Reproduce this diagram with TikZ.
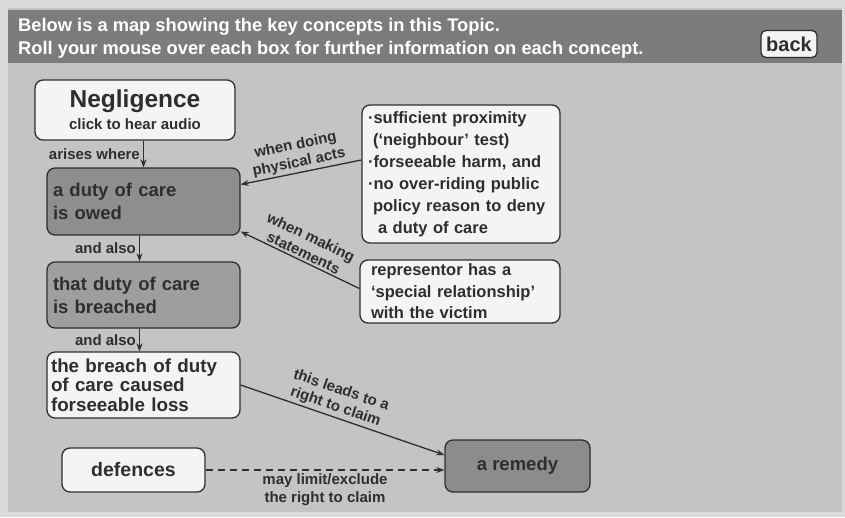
\documentclass[tikz,border=0pt]{standalone}
\usepackage{fontspec}
\setmainfont{Liberation Sans}
\usetikzlibrary{arrows.meta,positioning}
\definecolor{pagebg}{HTML}{DADADA}
\definecolor{panelbg}{HTML}{C4C4C4}
\definecolor{bandbg}{HTML}{7C7C7C}
\definecolor{darkbox}{HTML}{8C8C8C}
\definecolor{midbox}{HTML}{9E9E9E}
\definecolor{lightbox}{HTML}{F4F4F4}
\definecolor{ink}{HTML}{2E2E2E}

\begin{document}
\begin{tikzpicture}[x=1pt, y=-1pt,
		box/.style={draw=ink, line width=1.3pt, rounded corners=8pt,
				inner sep=0pt, text=ink,
				font=\fontsize{18.5}{23}\selectfont\bfseries},
		wbox/.style={box, fill=lightbox},
		gbox/.style={box, fill=midbox},
		lbl/.style={font=\fontsize{15}{17.5}\selectfont\bfseries,
				text=ink, inner sep=2pt, align=center},
		arr/.style={-{Stealth[length=8pt,width=6pt]}, line width=1.3pt, draw=ink}]

	% background and header band
	\fill[pagebg] (0,0) rectangle (845,517);
	\fill[panelbg] (8,8) rectangle (842,512);
	\fill[bandbg] (8,10) rectangle (842,63);
	\node[anchor=west, align=left, text=white, inner sep=0pt,
		font=\fontsize{18.3}{23}\selectfont\bfseries] (intro) at (18,38)
	{Below is a map showing the key concepts in this Topic.\\
		Roll your mouse over each box for further information on each concept.};
	\node[wbox, rounded corners=5pt, minimum width=56pt, minimum height=27pt,
		font=\fontsize{20}{22}\selectfont\bfseries] (back) at (789,44) {back};

	% main chain
	\node[wbox, minimum width=200pt, minimum height=60pt, align=center] (neg) at (135,110)
	{{\fontsize{24.5}{26}\selectfont Negligence}\\[-1pt]{\fontsize{15}{16}\selectfont click to hear audio}};
	\node[gbox, fill=midbox!90!black, text width=181pt, minimum height=67pt,
		inner xsep=6pt, align=left] (owed) at (143.5,201.5) {a duty of care\\is owed};
	\node[gbox, text width=181pt, minimum height=66pt,
		inner xsep=6pt, align=left] (breached) at (143.5,295) {that duty of care\\is breached};
	\node[wbox, text width=185pt, minimum height=66pt, inner xsep=4pt,
		align=left, font=\fontsize{18.8}{19.5}\selectfont\bfseries] (loss) at (143.5,385)
	{the breach of duty\\of care caused\\forseeable loss};

	% conditions
	\node[wbox, text width=186pt, minimum height=138pt, inner xsep=6pt,
		align=left, font=\fontsize{16.5}{22}\selectfont\bfseries] (tests) at (461,174)
	{·sufficient proximity\\
		\hspace*{5pt}(`neighbour' test)\\
		·forseeable harm, and\\
		·no over-riding public\\
		\hspace*{5pt}policy reason to deny\\
		\hspace*{10pt}a duty of care};
	\node[wbox, text width=178pt, minimum height=63pt, inner xsep=11pt,
		align=left, font=\fontsize{16.5}{21.5}\selectfont\bfseries] (special) at (460,291.5)
	{representor has a\\`special relationship'\\with the victim};

	% outcome
	\node[wbox, minimum width=143pt, minimum height=44pt,
		font=\fontsize{19.5}{22}\selectfont\bfseries] (defences) at (133.5,470) {defences};
	\node[box, fill=darkbox, minimum width=145pt, minimum height=52pt] (remedy) at (517.5,466) {a remedy};

	% connectors
	\draw[arr] (neg.south -| owed.north) -- (owed.north)
	node[lbl, midway, left, xshift=-1pt] {arises where};
	\draw[arr] ([xshift=-4pt]owed.south) -- ([xshift=-4pt]breached.north)
	node[lbl, midway, left, xshift=-1pt] {and also};
	\draw[arr] ([xshift=-4pt]breached.south) -- ([xshift=-4pt]loss.north)
	node[lbl, midway, left, xshift=-1pt] {and also};
	\draw[arr] ([yshift=14pt]tests.west) -- ([yshift=17pt]owed.east)
	node[lbl, midway, above, sloped] {when doing\\physical acts};
	\draw[arr] ([yshift=3pt]special.west) -- ([yshift=-30pt]owed.east)
	node[lbl, midway, above, sloped] {when making\\statements};
	\draw[arr] (loss.east) -- ([yshift=11pt]remedy.west)
	node[lbl, pos=0.45, above, sloped] {this leads to a\\right to claim};
	\draw[arr, dashed, dash pattern=on 7pt off 5pt] (defences.east) -- (defences.east -| remedy.west)
	node[lbl, midway, below, yshift=-1pt] {may limit/exclude\\the right to claim};

\end{tikzpicture}
\end{document}
